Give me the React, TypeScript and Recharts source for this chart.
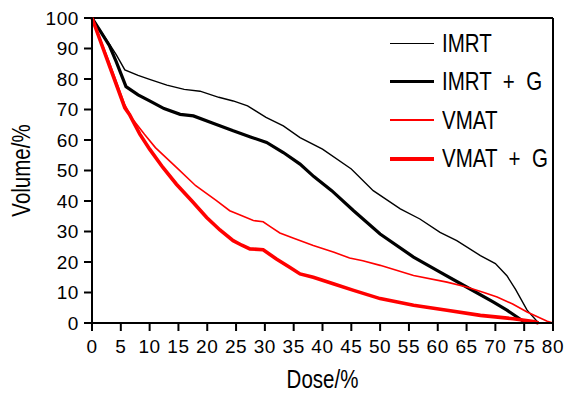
import { LineChart, Line, XAxis, YAxis, Legend, ReferenceLine } from 'recharts'

// dose (%) / volume (%) pairs
const imrtDose = [0, 1.5, 3, 4.2, 5.7, 8, 10, 13, 16, 18.75, 22, 24.5, 27, 30.2, 33.2, 36.1, 40, 45, 48.8, 53.5, 56.9, 60.4, 63.3, 67.4, 70, 72, 73.5, 75.5, 77.5]
const imrtVolume = [100, 95.8, 91.5, 88, 83, 81.2, 79.9, 78, 76.6, 76, 74, 72.8, 71.2, 67.4, 64.6, 60.8, 57, 50.5, 43.4, 37.4, 34.1, 29.7, 27, 22.1, 19.5, 15.5, 11, 4.2, 0]

const imrtGDose = [0, 1.5, 3, 4.2, 5.9, 8, 10, 12.5, 15.3, 17.6, 21, 24.5, 27.5, 30.3, 33.2, 36.1, 38.5, 41.6, 45.4, 50, 55.8, 60.4, 65, 69.6, 72, 74.2, 75.3]
const imrtGVolume = [100, 95.5, 91, 85.7, 77.5, 74.8, 72.8, 70.3, 68.4, 67.9, 65.5, 63, 61, 59.2, 55.9, 52.1, 48, 43.4, 36.8, 29.2, 21.6, 16.7, 11.8, 6.9, 4.2, 1.4, 0]

const vmatDose = [0, 3, 5.7, 7, 9.1, 11, 14.65, 18, 21.6, 23.9, 25.6, 28, 29.7, 31, 32.6, 35, 38.4, 42, 44.7, 47, 50, 55.8, 61.6, 65, 68, 70.3, 73, 75.5, 79, 80]
const vmatVolume = [100, 85.5, 71.5, 67, 61.9, 57.5, 51, 45, 40.1, 36.8, 35.5, 33.6, 33.2, 31.5, 29.5, 27.8, 25.4, 23.2, 21.3, 20.4, 18.9, 15.6, 13.4, 11.8, 10, 8.5, 6.2, 3.6, 0.6, 0]

const vmatGDose = [0, 3, 5.7, 6.5, 8.3, 10, 12.3, 14.65, 17.3, 19.9, 22.2, 24.5, 26, 27.4, 29.7, 32, 34.3, 36.1, 38.4, 42, 45.4, 50, 55.8, 61.6, 67.4, 70, 73.1, 76.6, 77.5]
const vmatGVolume = [100, 84.5, 70.5, 68.4, 61.9, 57, 51, 45.5, 40.1, 34.6, 30.5, 27, 25.5, 24.3, 24, 21, 18.3, 16.1, 15, 12.8, 10.7, 8, 5.8, 4.2, 2.5, 2, 1.4, 0.5, 0]

const doseTicks = [0, 5, 10, 15, 20, 25, 30, 35, 40, 45, 50, 55, 60, 65, 70, 75, 80]
const volumeTicks = [0, 10, 20, 30, 40, 50, 60, 70, 80, 90, 100]

const toPoints = (dose: number[], volume: number[]) =>
  dose.map((d, i) => ({ dose: d, volume: volume[i] }))

const series = [
  { name: 'IMRT', data: toPoints(imrtDose, imrtVolume), color: '#000000', width: 1.4 },
  { name: 'IMRT + G', data: toPoints(imrtGDose, imrtGVolume), color: '#000000', width: 3.2 },
  { name: 'VMAT', data: toPoints(vmatDose, vmatVolume), color: '#ff0000', width: 1.6 },
  { name: 'VMAT + G', data: toPoints(vmatGDose, vmatGVolume), color: '#ff0000', width: 3.6 },
]

const tickFont = "'Liberation Sans', Arial, sans-serif"
const titleFont = "'Liberation Sans', Arial, sans-serif"
// the original uses a narrow sans; squeeze a regular one horizontally
const squeeze = 0.82

const XTitle = ({ viewBox }: any) => {
  const vb = viewBox || { x: 92, y: 323, width: 461, height: 71 }
  return (
    <text
      transform={`translate(${vb.x + vb.width / 2}, ${vb.y + vb.height - 6}) scale(${squeeze}, 1)`}
      textAnchor="middle"
      fontFamily={titleFont}
      fontSize={25}
      fill="#000"
    >
      Dose/%
    </text>
  )
}

const YTitle = ({ viewBox }: any) => {
  const vb = viewBox || { x: 0, y: 18, width: 92, height: 305 }
  return (
    <text
      transform={`translate(${vb.x + 30}, ${vb.y + vb.height / 2}) rotate(-90) scale(${squeeze}, 1)`}
      textAnchor="middle"
      fontFamily={titleFont}
      fontSize={25}
      fill="#000"
    >
      Volume/%
    </text>
  )
}

const LegendBox = () => (
  <div style={{ fontFamily: titleFont, fontSize: 25, color: '#000' }}>
    {series.map((s) => (
      <div key={s.name} style={{ display: 'flex', alignItems: 'center', height: 38.5 }}>
        <div style={{ flex: '0 0 44px', height: s.width, background: s.color, marginRight: 8 }} />
        <span
          style={{
            flex: '0 0 auto',
            display: 'inline-block',
            whiteSpace: 'pre',
            wordSpacing: 7,
            transform: `scaleX(${squeeze})`,
            transformOrigin: 'left center',
          }}
        >
          {s.name}
        </span>
      </div>
    ))}
  </div>
)

export default function App() {
  return (
    <div style={{ position: 'absolute', left: 0, top: 0, background: '#fff' }}>
      <LineChart width={578} height={394} margin={{ top: 18, right: 25, bottom: 0, left: 0 }}>
        <XAxis
          type="number"
          dataKey="dose"
          domain={[0, 80]}
          ticks={doseTicks}
          interval={0}
          stroke="#000"
          strokeWidth={2}
          tickSize={8}
          tickMargin={9}
          height={71}
          tick={{ fill: '#000', fontSize: 19, fontFamily: tickFont, letterSpacing: 0.6 }}
          label={(props: any) => <XTitle {...props} />}
        />
        <YAxis
          type="number"
          dataKey="volume"
          domain={[0, 100]}
          ticks={volumeTicks}
          interval={0}
          stroke="#000"
          strokeWidth={2}
          tickSize={8}
          tickMargin={5}
          width={92}
          tick={{ fill: '#000', fontSize: 19, fontFamily: tickFont, letterSpacing: 0.6 }}
          label={(props: any) => <YTitle {...props} />}
        />
        <ReferenceLine y={100} stroke="#000" strokeWidth={2} />
        <ReferenceLine x={80} stroke="#000" strokeWidth={2} />
        <Legend
          layout="vertical"
          align="center"
          verticalAlign="middle"
          content={<LegendBox />}
          wrapperStyle={{ left: 390, top: 24, width: 188, overflow: 'visible' }}
        />
        {series.map((s) => (
          <Line
            key={s.name}
            data={s.data}
            dataKey="volume"
            name={s.name}
            type="linear"
            stroke={s.color}
            strokeWidth={s.width}
            dot={false}
            activeDot={false}
            isAnimationActive={false}
          />
        ))}
      </LineChart>
    </div>
  )
}
